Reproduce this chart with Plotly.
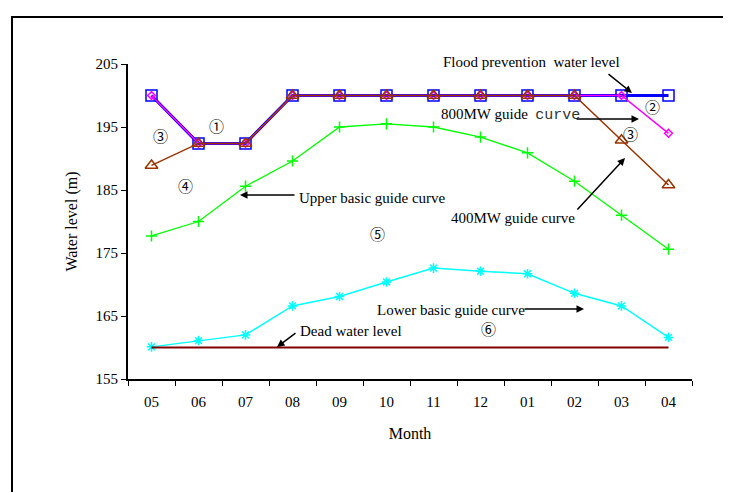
import plotly.graph_objects as go

months = ["05", "06", "07", "08", "09", "10", "11", "12", "01", "02", "03", "04"]
flood_level = [200, 192.4, 192.4, 200, 200, 200, 200, 200, 200, 200, 200, 200]
guide_800 = [200, 192.4, 192.4, 200, 200, 200, 200, 200, 200, 200, 200, 194]
guide_400 = [188.9, 192.4, 192.4, 200, 200, 200, 200, 200, 200, 200, 192.9, 185.8]
upper_basic = [177.7, 180.0, 185.6, 189.6, 195.0, 195.5, 195.0, 193.4, 190.9, 186.4, 181.0, 175.6]
lower_basic = [160.1, 161.1, 162.0, 166.6, 168.1, 170.4, 172.6, 172.1, 171.7, 168.6, 166.6, 161.6]
dead_level = [160] * 12

FONT = "Liberation Serif"
CJK = "Noto Sans CJK JP"
W, H = 731, 492
OFF = 8  # page body margin offset
L, R, T, B = 128 - OFF, 692 - OFF, 64 - OFF, 379 - OFF


def px(x):
    return (x - OFF - L) / (R - L)


def py(y):
    return (B - (y - OFF)) / (B - T)


fig = go.Figure()
fig.add_trace(go.Scatter(x=months, y=flood_level, mode="lines+markers",
                         line=dict(color="#0000FF", width=3),
                         marker=dict(symbol="square-open", size=11, color="#0000FF", line=dict(width=1.5))))
fig.add_trace(go.Scatter(x=months, y=guide_800, mode="lines+markers",
                         line=dict(color="#FF00FF", width=1.5),
                         marker=dict(symbol="diamond-open", size=6, color="#FF00FF", line=dict(width=1.5))))
fig.add_trace(go.Scatter(x=months, y=guide_400, mode="lines+markers",
                         line=dict(color="#993300", width=1.5),
                         marker=dict(symbol="triangle-up-open", size=11, color="#993300", line=dict(width=1.5))))
fig.add_trace(go.Scatter(x=months, y=upper_basic, mode="lines+markers",
                         line=dict(color="#00FF00", width=1.3),
                         marker=dict(symbol="cross-thin-open", size=8, color="#00FF00", line=dict(width=1.5, color="#00FF00"))))
fig.add_trace(go.Scatter(x=months, y=lower_basic, mode="lines+markers",
                         line=dict(color="#00FFFF", width=1.5),
                         marker=dict(symbol="asterisk-open", size=8, color="#00FFFF", line=dict(width=1.5, color="#00FFFF"))))
fig.add_trace(go.Scatter(x=months, y=dead_level, mode="lines",
                         line=dict(color="#800000", width=2)))

texts = [
    ("Flood prevention  water level", 531, 62, FONT),
    ("800MW guide  <span style='font-family:Liberation Mono;color:#333'>curve</span>", 510, 115, FONT),
    ("Upper basic guide curve", 372, 198, FONT),
    ("400MW guide curve", 513, 218, FONT),
    ("Lower basic guide curve", 451, 310, FONT),
    ("Dead water level", 351, 331, FONT),
    ("①", 216, 125, CJK),
    ("②", 652, 106, CJK),
    ("③", 630, 133, CJK),
    ("③", 160, 136, CJK),
    ("④", 185, 185, CJK),
    ("⑤", 377, 233, CJK),
    ("⑥", 488, 328, CJK),
]
annotations = []
for t, x, y, f in texts:
    annotations.append(dict(text=t, x=px(x), y=py(y), xref="paper", yref="paper",
                            showarrow=False, xanchor="center", yanchor="middle",
                            font=dict(family=f, size=15, color="black")))

arrows = [
    # (tail_x, tail_y, tip_x, tip_y) in screen pixels
    (607, 73, 632, 93),
    (575, 119, 639, 119),
    (296, 195, 240, 195),
    (576, 211, 625, 158),
    (523, 309, 584, 309),
    (297, 332, 277, 347),
]
for tx, ty, hx, hy in arrows:
    annotations.append(dict(text="", x=px(hx), y=py(hy), xref="paper", yref="paper",
                            showarrow=True, ax=tx - hx, ay=ty - hy,
                            arrowhead=2, arrowsize=1, arrowwidth=1.5, arrowcolor="black"))

fig.update_layout(
    width=W, height=H,
    margin=dict(l=L, r=W - R, t=T, b=H - B, pad=0),
    paper_bgcolor="white", plot_bgcolor="white",
    showlegend=False,
    font=dict(family=FONT, size=15, color="black"),
    annotations=annotations,
    shapes=[dict(type="rect", xref="paper", yref="paper",
                 x0=px(12), x1=px(727), y0=py(530), y1=py(17),
                 line=dict(color="black", width=2), fillcolor="rgba(0,0,0,0)", layer="below")],
)
fig.update_xaxes(type="category", range=[-0.5, 11.5], tickson="boundaries",
                 ticks="outside", ticklen=5, tickwidth=1.2, tickcolor="black",
                 ticklabelstandoff=8,
                 showline=True, linecolor="black", linewidth=2, showgrid=False, zeroline=False,
                 title=dict(text="Month", standoff=19, font=dict(family=FONT, size=16)),
                 tickfont=dict(family=FONT, size=15))
fig.update_yaxes(range=[155, 205], tick0=155, dtick=10,
                 ticks="outside", ticklen=5, tickwidth=1.2, tickcolor="black",
                 showline=True, linecolor="black", linewidth=2, showgrid=False, zeroline=False,
                 title=dict(text="Water level (m)", standoff=14, font=dict(family=FONT, size=16)),
                 tickfont=dict(family=FONT, size=15))

fig.write_html("out.html")
